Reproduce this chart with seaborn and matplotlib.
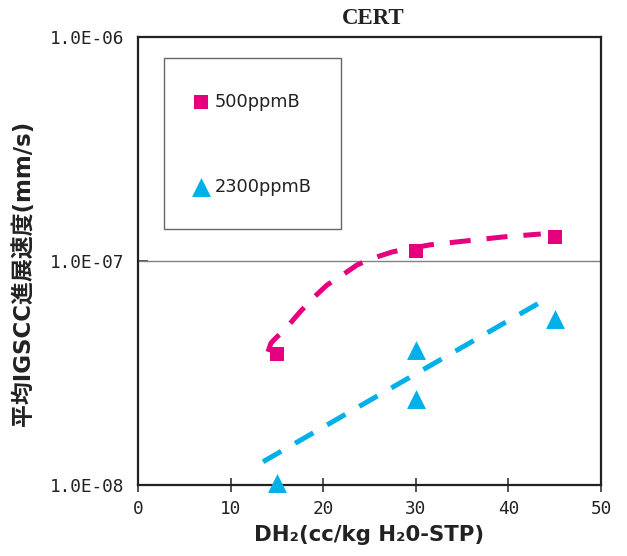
import matplotlib
matplotlib.use("Agg")
import matplotlib.pyplot as plt
from matplotlib.patches import Rectangle
from matplotlib.ticker import FixedLocator, FixedFormatter, NullLocator
import seaborn as sns

# Measured crack growth rates (CERT)
dh2_500 = [15, 30, 45]
rate_500 = [3.83e-8, 1.11e-7, 1.284e-7]
dh2_2300 = [15, 30, 30, 45]
rate_2300 = [1.026e-8, 3.99e-8, 2.41e-8, 5.51e-8]

# Trend curves
trend_x_500 = [14.04, 14.36, 14.79, 16.09, 17.49, 18.79, 20.41, 21.92, 23.65,
               25.38, 27.54, 31.5, 35.5, 39.4, 43.5]
trend_y_500 = [3.93e-8, 4.30e-8, 4.49e-8, 5.07e-8, 5.92e-8, 6.76e-8, 7.81e-8,
               8.57e-8, 9.6e-8, 1.03e-7, 1.10e-7, 1.18e-7, 1.23e-7, 1.28e-7,
               1.32e-7]
trend_x_2300 = [13.5, 43.5]
trend_y_2300 = [1.27e-8, 6.56e-8]

x_ticks = [0, 10, 20, 30, 40, 50]
y_ticks = [1e-8, 1e-7, 1e-6]
y_tick_labels = ["1.0E-08", "1.0E-07", "1.0E-06"]

labels = ["500ppmB", "2300ppmB"]
title = "CERT"
x_label = "DH₂(cc/kg H₂0-STP)"
y_label = "平均IGSCC進展速度(mm/s)"

pink = "#e5007f"
cyan = "#00b0e8"

sns.set_theme(style="white")
plt.rcParams["font.family"] = ["DejaVu Sans"]

fig = plt.figure(figsize=(6.27, 5.56), dpi=100)
ax = fig.add_axes([138 / 627, 1 - 485 / 556, 463 / 627, 448 / 556])

dash = (0, (4.2, 3.2))
sns.lineplot(x=trend_x_500, y=trend_y_500, sort=False, estimator=None, ax=ax,
             color=pink, lw=3.6, linestyle=dash)
ax.lines[-1].set_dash_capstyle("butt")
ax.lines[-1].set_dash_joinstyle("round")
sns.lineplot(x=trend_x_2300, y=trend_y_2300, sort=False, estimator=None, ax=ax,
             color=cyan, lw=3.6, linestyle=dash)
ax.lines[-1].set_dash_capstyle("butt")

sns.scatterplot(x=dh2_500, y=rate_500, marker="s", s=100, color=pink,
                linewidth=0, ax=ax, clip_on=False, zorder=5, label=labels[0])
sns.scatterplot(x=dh2_2300, y=rate_2300, marker="^", s=185, color=cyan,
                linewidth=0, ax=ax, clip_on=False, zorder=5, label=labels[1])

ax.set_yscale("log")
ax.set_xlim(0, 50)
ax.set_ylim(1e-8, 1e-6)
ax.set_xticks(x_ticks)
ax.set_xticklabels([str(v) for v in x_ticks])
ax.yaxis.set_major_locator(FixedLocator(y_ticks))
ax.yaxis.set_major_formatter(FixedFormatter(y_tick_labels))
ax.yaxis.set_minor_locator(NullLocator())

ax.tick_params(axis="x", direction="inout", length=10, width=1.2, color="#333333",
               labelsize=12.8, pad=6, labelcolor="#222222", bottom=True)
ax.tick_params(axis="y", direction="in", length=7, width=1.2, color="#333333",
               labelsize=12.8, pad=10, labelcolor="#222222", left=True)
for lab in ax.get_xticklabels() + ax.get_yticklabels():
    lab.set_fontfamily("DejaVu Sans Mono")

ax.grid(False)
ax.axhline(1e-7, color="#808080", lw=1.0, zorder=1)

for sp in ax.spines.values():
    sp.set_color("#222222")
    sp.set_linewidth(1.6)
    sp.set_visible(True)

ax.set_title(title, fontfamily="Liberation Serif", fontweight="bold",
             fontsize=16.5, pad=9, color="#222222", x=0.507)
ax.set_xlabel(x_label, fontfamily=["DejaVu Sans", "Noto Sans CJK JP"],
              fontweight="bold", fontsize=15.3, color="#222222", labelpad=5)
ax.set_ylabel(y_label, fontfamily=["DejaVu Sans", "Noto Sans CJK JP"],
              fontweight="bold", fontsize=16.5, color="#222222")
ax.yaxis.set_label_coords(-0.222, 0.473)

# Legend box with entries
ax.add_patch(Rectangle((26 / 463, (485 - 229) / 448), (341 - 164) / 463,
                       (229 - 58) / 448, transform=ax.transAxes, fill=False,
                       edgecolor="#666666", lw=1.0, zorder=6))
leg = ax.legend(loc="upper left", bbox_to_anchor=(52 / 463, (485 - 93) / 448),
                frameon=False, fontsize=12.8, labelspacing=3.75,
                handletextpad=0.2, handlelength=1.2, borderpad=0,
                borderaxespad=0)
for t in leg.get_texts():
    t.set_color("#222222")

fig.savefig("out.png", dpi=100)
